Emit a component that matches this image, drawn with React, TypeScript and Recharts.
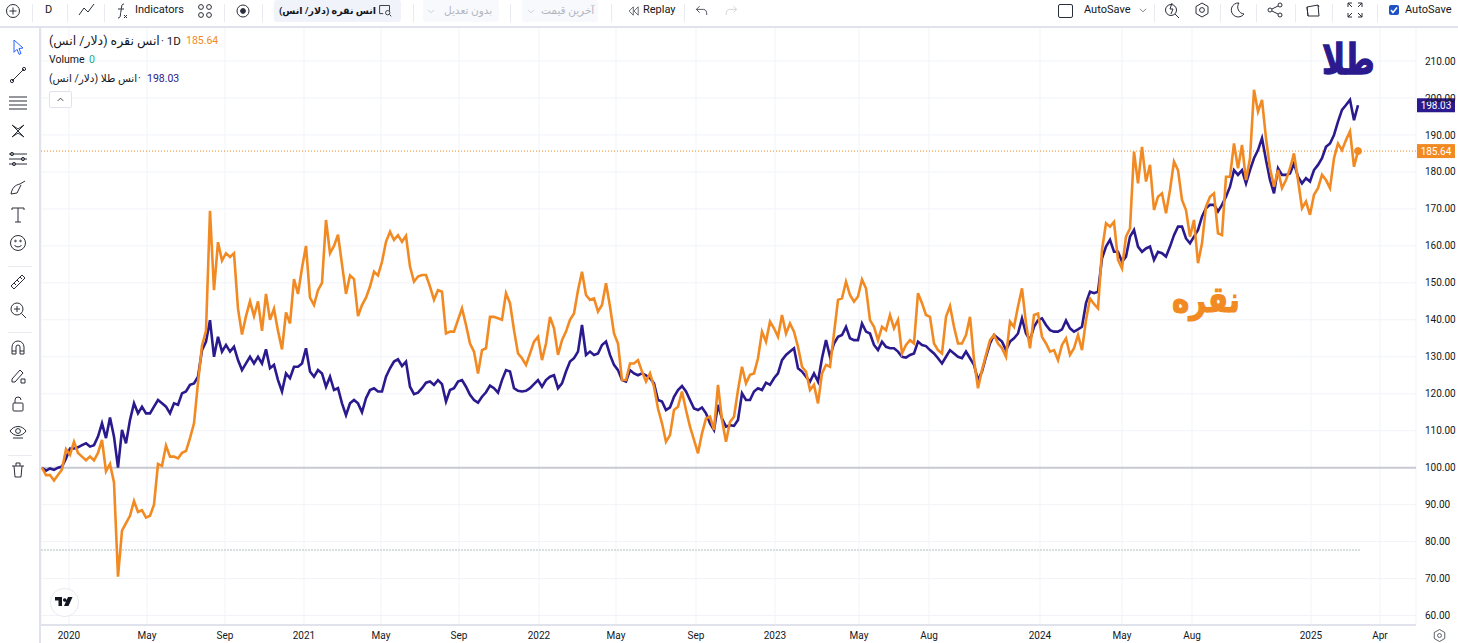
import { LineChart, Line, XAxis, YAxis, CartesianGrid, ReferenceLine, ReferenceDot } from 'recharts'
import type { ReactNode } from 'react'

const silver = [
  100, 98, 98, 96.5, 98, 99.5, 105, 103.5, 107, 104,
  103, 102, 103, 102, 104, 107.5, 99, 101, 96, 70.5,
  83, 85, 87, 91, 88, 88.5, 86.5, 87, 90, 101,
  100.5, 106, 103, 103, 102.5, 104, 104.5, 108, 112, 123,
  133, 137, 169.5, 148, 161, 156, 158, 157, 158, 143,
  136, 141, 145, 141, 145, 137, 147, 140, 143, 137,
  132, 142, 139, 151, 147, 154, 160, 146, 144, 148,
  150, 167, 158, 160, 163, 155, 147, 152, 151, 141,
  144, 146, 149, 153, 152, 155.7, 161.1, 163.8, 161.6, 162.9,
  161.1, 162.7, 154.4, 150.3, 151.7, 152.1, 152.1, 149, 145.4, 148,
  147.6, 136.3, 136.8, 136.8, 140, 143.1, 138.6, 133.6, 131.4, 125.5,
  131.8, 132.3, 140.8, 140.8, 140.4, 140, 147.2, 144.5, 137.2, 130.9,
  129.6, 127.8, 130.9, 134.1, 135.4, 129.1, 133.6, 140.8, 137.7, 130.5,
  134.5, 136.8, 140, 141.7, 148, 153, 146.7, 145.4, 145.8, 142.2,
  144, 149.9, 143.6, 136.3, 133.6, 123.7, 123.7, 128.2, 128.2, 129.1,
  126, 123.3, 125.5, 121.9, 116, 112, 107, 108.8, 115.6, 116.5,
  120.6, 115.6, 111.1, 107.5, 103.9, 109.3, 113.3, 113.8, 110.2, 122.4,
  112.9, 107, 112.4, 113.8, 121, 127.3, 122.8, 125.1, 125.5, 129.6,
  136.8, 134.1, 139.5, 137.7, 135.4, 141.3, 136.3, 139, 136.8, 132.7,
  127.3, 126, 121, 122.4, 117.4, 125.5, 127.8, 127.3, 136.3, 145.4,
  145.8, 150.3, 146.7, 144.9, 146.3, 150.9, 148.5, 139.9, 138.1, 134.5,
  138.1, 137.2, 141.3, 137.7, 140, 130.9, 133.2, 134.5, 133.6, 147.2,
  144.5, 141.3, 140.8, 133.6, 131.8, 130.9, 140.8, 143.7, 138.1, 133.6,
  133.6, 135.9, 140.8, 129.1, 121.5, 126.4, 130.5, 134.5, 135.9, 133.6,
  132.3, 130, 139.5, 138.1, 143.6, 148.5, 139, 132.3, 141.3, 141.7,
  135.4, 133.6, 131.4, 131.8, 129.1, 133.2, 135, 130.5, 132.3, 135.9,
  131.8, 139.9, 145.8, 144.3, 143.1, 158.9, 166.1, 165.2, 166.5, 156.2,
  153.9, 162.5, 164.7, 185.5, 176.9, 186.8, 177.4, 181.9, 169.7, 173.3,
  174.2, 168.8, 175.1, 182.8, 180.5, 172.4, 169.7, 162.5, 167, 155.3,
  160.7, 170.6, 173.3, 174.2, 163.4, 162.9, 178.7, 178.7, 187.7, 181,
  187.3, 177.8, 183.7, 202.2, 196.3, 199.5, 189.1, 181, 176, 180.5,
  175.6, 177.8, 181, 185, 177.8, 170.2, 172, 168.4, 173.8, 175.6,
  179.2, 177.8, 175.6, 183.7, 187.7, 185.9, 188.6, 191, 181.4, 185.64,
]

const gold = [
  100, 99.2, 99.8, 99.4, 100, 100.3, 102.5, 105.2, 105.2, 105.5,
  106.1, 106.6, 105.7, 106.1, 108.4, 112, 108, 113.6, 108.4, 100,
  110.2, 106.6, 112.9, 117.4, 114.7, 116.5, 114.7, 114.7, 116.5, 118.3,
  117.4, 116.5, 114.7, 117.4, 117, 120.1, 120.6, 122.4, 122.8, 124.6,
  131.8, 134.1, 139.9, 130, 135.4, 131.4, 133.2, 131.4, 132.7, 129.1,
  126.4, 128.2, 130, 128.2, 130, 128.2, 132, 126.9, 127.8, 123.7,
  120.6, 125.5, 124.2, 127.3, 127.3, 128.2, 132.3, 126, 124.6, 126.4,
  125.5, 121.9, 124.6, 121, 121.5, 117.4, 114.2, 117.4, 118.3, 117.4,
  115, 118.8, 121, 121.5, 120.6, 120.6, 124.6, 126.9, 128.7, 129.3,
  127.5, 128.7, 121.9, 119.9, 120.3, 121.5, 123, 123.3, 122.4, 123.7,
  122.6, 117.9, 121, 121.5, 123.3, 123.7, 121.9, 119.7, 118.3, 117.6,
  119.2, 120.4, 122.2, 121.5, 120.3, 123.7, 126.4, 126, 121.5, 120.8,
  120.6, 120.8, 121.5, 122.6, 123.7, 121.9, 123.7, 124.6, 125, 121.5,
  122.8, 126, 128.7, 129.6, 131.4, 138.6, 130.5, 131.4, 130.5, 130.9,
  133.2, 134.1, 130.5, 127.8, 126.4, 123.7, 123.3, 126.4, 125.5, 125,
  125.5, 125, 124.2, 122.8, 118.3, 117.9, 115.6, 116.3, 119.2, 121,
  122.1, 120.6, 118.3, 116, 115.6, 116.3, 114.7, 112, 110.2, 117,
  113.3, 111.1, 111.5, 111.3, 112.9, 120.1, 118.3, 118.3, 120.6, 121.5,
  121, 123, 122.4, 124.2, 125.5, 129.1, 130.5, 131.4, 132.3, 126.9,
  126, 124.6, 123.3, 125.5, 123.3, 129.6, 134.5, 130, 133.6, 135.4,
  135.9, 138.1, 135, 134.5, 134.5, 139, 136.8, 136.3, 133.2, 131.8,
  134.1, 132.7, 132.3, 132.3, 131.4, 130, 129.8, 130.5, 130.9, 134.1,
  133.2, 132.9, 131.8, 130.9, 129.6, 128.2, 130, 131.8, 130.9, 130,
  129.6, 131.4, 129.6, 127.8, 123.7, 126, 130, 133.6, 135.9, 135,
  134.1, 131.8, 134.1, 135, 136.3, 140.4, 136.3, 134.5, 138.1, 139.9,
  140.4, 138.6, 137.2, 136.8, 136.8, 137.4, 139.8, 137.7, 136.8, 137.4,
  138.1, 144.5, 147.6, 147.2, 147.6, 156.6, 159.8, 161.6, 158.4, 158.4,
  155.7, 157.1, 162.5, 164.3, 159.8, 158.4, 159.3, 159.8, 156.2, 158.4,
  158, 157.1, 159.8, 162.9, 165.2, 165.2, 162, 160.7, 162.5, 164.3,
  167.9, 170.2, 171.1, 171.1, 169.3, 171.1, 173.3, 176, 180.5, 179.2,
  180.5, 176.9, 180.5, 183.7, 185.9, 189.1, 183.2, 177.8, 174.2, 181,
  179.2, 179.2, 179.6, 182.3, 178.7, 176.9, 178.3, 177.4, 180.5, 181.9,
  183.7, 186.8, 187.7, 190, 193.6, 196.8, 198.1, 199.5, 194, 198.03,
]

const tickBars = [6.75, 26.25, 45.75, 65.5, 84.75, 104.25, 124.25, 143.5, 163.5, 183.25, 204.25, 221.75, 249.5, 270, 287.5, 317.25, 334.5]
const tickLabels = ['2020', 'May', 'Sep', '2021', 'May', 'Sep', '2022', 'May', 'Sep', '2023', 'May', 'Aug', '2024', 'May', 'Aug', '2025', 'Apr']
const priceTicks = [60, 70, 80, 90, 100, 110, 120, 130, 140, 150, 160, 170, 180, 190, 200, 210]

const SILVER = '#f28a23'
const GOLD = '#2a1a8e'
const INK = '#131722'
const UI_FONT = 'Roboto, "DejaVu Sans", sans-serif'

const rows = silver.map((v, i) => ({ bar: i, silver: v, gold: gold[i] }))

function PriceTag({ viewBox, value, color }: any) {
  const y = viewBox?.y ?? 0
  return (
    <g>
      <rect x={1417} y={y - 7} width={38} height={14} fill={color} />
      <text x={1436} y={y + 4} textAnchor="middle" fontSize={10} fill="#fff" fontFamily={UI_FONT}>
        {value}
      </text>
    </g>
  )
}

function Icon({ x, y, w = 20, h = 20, stroke = '#2a2e39', children }: { x: number; y: number; w?: number; h?: number; stroke?: string; children: ReactNode }) {
  return (
    <svg
      width={w}
      height={h}
      viewBox="0 0 20 20"
      fill="none"
      stroke={stroke}
      strokeWidth={1}
      style={{ position: 'absolute', left: x - w / 2, top: y - h / 2 }}
    >
      {children}
    </svg>
  )
}

function Txt({ x, y, size = 11, color = INK, dir, weight, outline, stretch, children }: { x: number; y: number; size?: number; color?: string; dir?: string; weight?: number; outline?: number; stretch?: string; children: ReactNode }) {
  return (
    <div
      dir={dir}
      style={{
        position: 'absolute',
        left: x,
        top: y,
        fontSize: size,
        color,
        fontWeight: weight,
        fontFamily: UI_FONT,
        lineHeight: '14px',
        whiteSpace: 'nowrap',
        WebkitTextStroke: outline ? `${outline}px ${color}` : undefined,
        transform: stretch,
        transformOrigin: 'left center',
      }}
    >
      {children}
    </div>
  )
}

const topSeparators = [32, 67, 104, 224, 262, 413, 510, 611, 684, 1154, 1220, 1256, 1295, 1332, 1377]
const leftSeparators = [266, 332, 455]

function TopBar() {
  return (
    <>
      {topSeparators.map((x) => (
        <div key={x} style={{ position: 'absolute', left: x, top: 4, width: 1, height: 18, background: '#e9ebf0' }} />
      ))}
      <Icon x={13} y={11}><circle cx="10" cy="10" r="6.5" /><path d="M10 6.5v7M6.5 10h7" /></Icon>
      <Txt x={45} y={3}>D</Txt>
      <Icon x={86} y={10}><path d="M3 15l5-7 4 4 6-8" /></Icon>
      <Icon x={122} y={11}><path d="M12 3c-3 0-2 3-3 7s0 7-3 7M6 8h6M12 14l3 3M15 14l-3 3" /></Icon>
      <Txt x={135} y={3}>Indicators</Txt>
      <Icon x={205} y={11}>
        <circle cx="6" cy="6" r="2.4" /><circle cx="14" cy="6" r="2.4" /><circle cx="6" cy="14" r="2.4" /><circle cx="14" cy="14" r="2.4" />
      </Icon>
      <Icon x={243} y={11}><circle cx="10" cy="10" r="6" /><circle cx="10" cy="10" r="2.4" fill="#2a2e39" /></Icon>
      <div style={{ position: 'absolute', left: 274, top: 0, width: 127, height: 22, background: '#f0f3fa', borderRadius: 3 }} />
      <Txt x={279} y={4} size={9.5} dir="rtl" weight={700}>انس نقره (دلار/ انس)</Txt>
      <Icon x={385} y={10} w={18} h={18}><path d="M4 14V5h11v6M8 14H4" /><circle cx="13" cy="13" r="2.4" /><path d="M15 15l2 2" /></Icon>
      <div style={{ position: 'absolute', left: 423, top: 0, width: 76, height: 22, background: '#f8f9fc', borderRadius: 3 }} />
      <Txt x={444} y={4} size={10.5} color="#b2b5be" dir="rtl">بدون تعدیل</Txt>
      <Icon x={431} y={11} w={12} h={12} stroke="#b2b5be"><path d="M5 8l5 5 5-5" /></Icon>
      <div style={{ position: 'absolute', left: 522, top: 0, width: 76, height: 22, background: '#f8f9fc', borderRadius: 3 }} />
      <Txt x={541} y={4} size={10.5} color="#b2b5be" dir="rtl">آخرین قیمت</Txt>
      <Icon x={531} y={11} w={12} h={12} stroke="#b2b5be"><path d="M5 8l5 5 5-5" /></Icon>
      <Icon x={634} y={11} w={14} h={14}><path d="M9 4l-6 6 6 6zM16 4l-6 6 6 6z" /></Icon>
      <Txt x={643} y={3}>Replay</Txt>
      <Icon x={702} y={11} w={16} h={16}><path d="M7 4L3 8l4 4M3 8h9c3 0 4 3 4 7" /></Icon>
      <Icon x={731} y={11} w={16} h={16} stroke="#c9cbd1"><path d="M13 4l4 4-4 4M17 8H8c-3 0-4 3-4 7" /></Icon>

      <div style={{ position: 'absolute', left: 1058, top: 4, width: 13, height: 12, border: '1px solid #2a2e39', borderRadius: 2 }} />
      <Txt x={1084} y={3}>AutoSave</Txt>
      <Icon x={1143} y={10} w={12} h={12}><path d="M5 8l5 5 5-5" /></Icon>
      <Icon x={1172} y={10}><circle cx="9" cy="10" r="5.5" /><path d="M13 14l4 4M10 3L8 9h3l-2 5" /></Icon>
      <Icon x={1202} y={10}><path d="M10 3l6 3.5v7L10 17l-6-3.5v-7z" /><circle cx="10" cy="10" r="2.4" /></Icon>
      <Icon x={1237} y={10}><path d="M12 3a7 7 0 1 0 5 11A7 7 0 0 1 12 3z" /></Icon>
      <Icon x={1275} y={10}>
        <circle cx="15" cy="5" r="2" /><circle cx="5" cy="10" r="2" /><circle cx="15" cy="15" r="2" /><path d="M7 9l6-3M7 11l6 3" />
      </Icon>
      <Icon x={1313} y={11}><path d="M4 6l11-2 1 11H5zM4 6l1 9M15 4l1 2" /></Icon>
      <Icon x={1355} y={10}><path d="M3 7V3h4M17 7V3h-4M3 13v4h4M17 13v4h-4M3 3l4 4M17 3l-4 4M3 17l4-4M17 17l-4-4" /></Icon>
      <div style={{ position: 'absolute', left: 1389, top: 5, width: 10, height: 10, background: '#1e53c5', borderRadius: 2 }} />
      <Icon x={1394} y={10} w={10} h={10} stroke="#fff"><path d="M4 10l4 5 8-10" strokeWidth={3} /></Icon>
      <Txt x={1405} y={3}>AutoSave</Txt>
    </>
  )
}

function LeftBar() {
  return (
    <>
      {leftSeparators.map((y) => (
        <div key={y} style={{ position: 'absolute', left: 8, top: y, width: 24, height: 1, background: '#e9ebf0' }} />
      ))}
      <Icon x={18} y={47} stroke="#2962ff"><path d="M6 3l9 8-4 .5 2 5-2 .8-2-5-3 3z" /></Icon>
      <Icon x={18} y={75}><path d="M4 16L16 4" /><circle cx="4" cy="16" r="1.6" /><circle cx="16" cy="4" r="1.6" /></Icon>
      <Icon x={18} y={103}><path d="M1 4h18M1 8h18M1 12h18M1 16h18" /></Icon>
      <Icon x={18} y={131}><path d="M4 4l12 12M4 16L16 4M4 4l6 4 6-4M4 16l6-4 6 4" /></Icon>
      <Icon x={18} y={159}><path d="M1 5h18M1 10h18M1 15h18" /><circle cx="4" cy="5" r="1.6" /><circle cx="15" cy="10" r="1.6" /><circle cx="6" cy="15" r="1.6" /></Icon>
      <Icon x={18} y={187}><path d="M3 17c1-6 4-9 9-10l5-3M3 17l6-1 4-8" /></Icon>
      <Icon x={18} y={215}><path d="M4 5V3h12v2M10 3v14M7 17h6" /></Icon>
      <Icon x={18} y={243}><circle cx="10" cy="10" r="7.5" /><path d="M6.5 12c1 2.5 6 2.5 7 0" /><circle cx="7.5" cy="8" r=".8" /><circle cx="12.5" cy="8" r=".8" /></Icon>
      <Icon x={18} y={282}><path d="M3 14L14 3l3 3L6 17zM6 11l2 2M9 8l2 2M12 5l2 2" /></Icon>
      <Icon x={18} y={310}><circle cx="9" cy="9" r="6" /><path d="M13.5 13.5L18 18M9 6v6M6 9h6" /></Icon>
      <Icon x={18} y={348}><path d="M4 16V9a6 6 0 0 1 12 0v7h-4V9a2 2 0 0 0-4 0v7zM4 13h4M12 13h4" /></Icon>
      <Icon x={18} y={376}><path d="M4 13l8-9 3 3-8 9H4zM13 13h4v4h-4z" /></Icon>
      <Icon x={18} y={404}><rect x="5" y="9" width="10" height="8" rx="1" /><path d="M7 9V6a3 3 0 0 1 6 0" /></Icon>
      <Icon x={18} y={432}><path d="M2 9c4-6 12-6 16 0-4 6-12 6-16 0z" /><circle cx="10" cy="9" r="2.4" /><path d="M5 16h10" /></Icon>
      <Icon x={18} y={470}><path d="M4 6h12M6 6l1 11h6l1-11M8 6V3h4v3" /></Icon>
    </>
  )
}

export default function App() {
  return (
    <div style={{ position: 'absolute', left: 0, top: 0, width: 1458, height: 643, background: '#fff', overflow: 'hidden' }}>
      <LineChart width={1458} height={643} data={rows} margin={{ top: 27, right: 0, bottom: 0, left: 41 }}>
        <CartesianGrid stroke="#f1f3f8" strokeWidth={1} />
        <XAxis
          dataKey="bar"
          type="number"
          domain={[-0.25, 343.5]}
          ticks={tickBars}
          tickFormatter={(v: number) => tickLabels[tickBars.indexOf(v)]}
          interval={0}
          height={18}
          tickLine={false}
          axisLine={{ stroke: '#e0e3eb', strokeWidth: 2 }}
          tick={{ fontSize: 10, fill: INK, fontFamily: UI_FONT }}
          tickMargin={1}
        />
        <YAxis
          orientation="right"
          type="number"
          domain={[57.45, 219.2]}
          ticks={priceTicks}
          width={42}
          interval={0}
          tickLine={false}
          axisLine={false}
          tickFormatter={(v: number) => v.toFixed(2)}
          tick={{ fontSize: 10, fill: INK, fontFamily: UI_FONT }}
          tickMargin={3}
        />
        <ReferenceLine y={100} stroke="#c8c9d0" strokeWidth={2} />
        <ReferenceLine
          segment={[{ x: -0.25, y: 77.74 }, { x: 329.5, y: 77.74 }]}
          stroke="#d6e0df"
          strokeWidth={2}
          strokeDasharray="2 1"
        />
        <ReferenceLine y={185.64} stroke={SILVER} strokeWidth={1} strokeDasharray="1 2" />
        <Line dataKey="gold" stroke={GOLD} strokeWidth={2.6} dot={false} type="linear" isAnimationActive={false} />
        <Line dataKey="silver" stroke={SILVER} strokeWidth={2.6} dot={false} type="linear" isAnimationActive={false} />
        <ReferenceDot x={329} y={185.64} r={3.5} fill={SILVER} stroke={SILVER} />
        <ReferenceLine y={198.03} stroke="none" label={<PriceTag value="198.03" color={GOLD} />} />
        <ReferenceLine y={185.64} stroke="none" label={<PriceTag value="185.64" color={SILVER} />} />
      </LineChart>

      <div style={{ position: 'absolute', left: 0, top: 0, width: 1458, height: 26, background: '#fff', borderBottom: '2px solid #e0e3eb', boxSizing: 'content-box' }} />
      <div style={{ position: 'absolute', left: 39, top: 28, width: 2, height: 615, background: '#e0e3eb' }} />
      <TopBar />
      <LeftBar />

      <Txt x={49} y={34} size={12.5} dir="rtl">انس نقره (دلار/ انس)</Txt>
      <Txt x={161} y={34} size={11.5}>· 1D</Txt>
      <Txt x={186} y={34} size={10.5} color={SILVER}>185.64</Txt>
      <Txt x={49} y={53} size={10.5}>Volume</Txt>
      <Txt x={89} y={53} size={10.5} color="#22ab94">0</Txt>
      <Txt x={49} y={72} size={10.5} dir="rtl">انس طلا (دلار/ انس)</Txt>
      <Txt x={138} y={72} size={10.5}>·</Txt>
      <Txt x={147} y={72} size={10.5} color={GOLD}>198.03</Txt>
      <div style={{ position: 'absolute', left: 49, top: 91, width: 21, height: 15, border: '1px solid #e0e3eb', borderRadius: 2, background: '#fff' }} />
      <Icon x={60} y={99} w={9} h={9}><path d="M4 13l6-6 6 6" strokeWidth={2} /></Icon>

      <Txt x={1322} y={53} size={32} color={GOLD} weight={700} outline={1} dir="rtl" stretch="scale(0.97,1.3)">طلا</Txt>
      <Txt x={1172} y={293} size={30} color={SILVER} weight={700} outline={1} dir="rtl" stretch="scale(0.98,1.2)">نقره</Txt>

      <div style={{ position: 'absolute', left: 50, top: 588, width: 27, height: 27, borderRadius: 14, border: '1px solid #e8eaef', background: '#fff' }} />
      <svg width={18} height={12} viewBox="0 0 36 20" style={{ position: 'absolute', left: 55, top: 596 }}>
        <path d="M0 0h14v18H7V7H0zM16 6a3.5 3.5 0 1 0 0-.1zM26 0h9l-8 18h-9z" fill={INK} />
      </svg>
      <Icon x={1439} y={635} w={15} h={15}><path d="M10 2l7 4v8l-7 4-7-4V6z" /><circle cx="10" cy="10" r="2.6" /></Icon>
    </div>
  )
}
